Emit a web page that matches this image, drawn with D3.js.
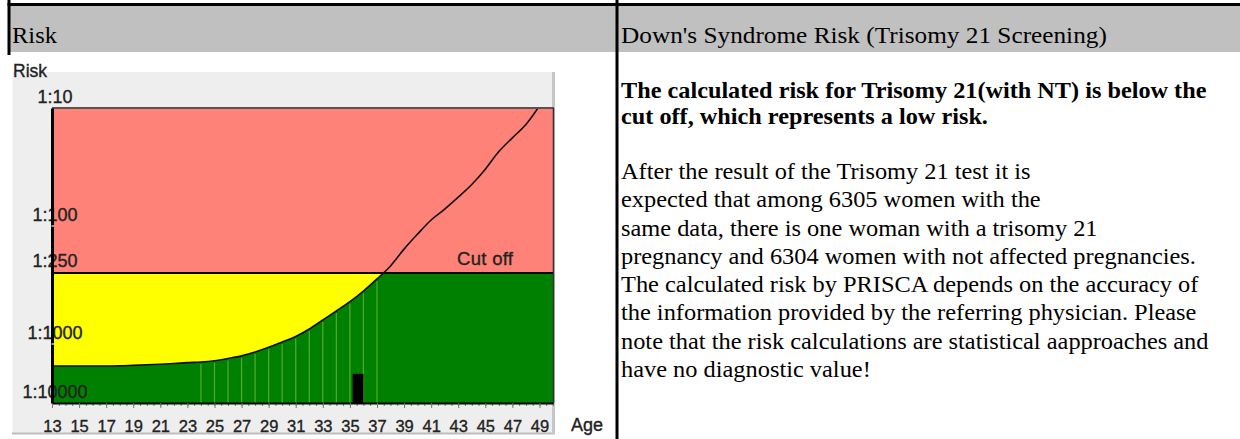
<!DOCTYPE html>
<html>
<head>
<meta charset="utf-8">
<script src="https://cdn.jsdelivr.net/npm/d3@7"></script>
<style>
html, body { margin: 0; padding: 0; background: #fff; }
svg { display: block; }
.chart text { font-family: "Liberation Sans", Arial, sans-serif; fill: #222; stroke: #222; stroke-width: 0.35px; }
.report text { font-family: "Liberation Serif", "Times New Roman", serif; fill: #000; }
</style>
</head>
<body>
<svg id="page" width="1240" height="439"></svg>
<script>
// age related risk curve (1:n)
var ages = [13, 14, 15, 16, 17, 18, 19, 20, 21, 22, 23, 24, 25, 26, 27, 28, 29, 30, 31,
  32, 33, 34, 35, 36, 37, 38, 39, 40, 41, 42, 43, 44, 45, 46, 47, 48, 49];
var riskDenominators = [2360, 2360, 2360, 2360, 2360, 2350, 2300, 2250, 2200, 2140, 2070,
  2020, 1920, 1760, 1590, 1370, 1140, 960, 863, 746, 626, 525, 438, 356, 281, 218, 157,
  117, 89, 72, 57, 44.5, 33, 23.4, 17.9, 13.8, 9.6];
var stripeAges = [24, 25, 26, 27, 28, 29, 30, 31, 32, 33, 34, 35, 36, 37];
var cutOff = 250;
var markerAges = [35.2, 36.0];
var markerRisk = 3200;

var yTickValues = [10, 100, 250, 1000, 10000];
var yTickLabels = ["1:10", "1:100", "1:250", "1:1000", "1:10000"];
var xTickValues = [13, 15, 17, 19, 21, 23, 25, 27, 29, 31, 33, 35, 37, 39, 41, 43, 45, 47, 49];

var headerLeft = "Risk";
var headerRight = "Down's Syndrome Risk (Trisomy 21 Screening)";
var resultLines = [
  "The calculated risk for Trisomy 21(with NT) is below the",
  "cut off, which represents a low risk."
];
var explanationLines = [
  "After the result of the Trisomy 21 test it is",
  "expected that among 6305 women with the",
  "same data, there is one woman with a trisomy 21",
  "pregnancy and 6304 women with not affected pregnancies.",
  "The calculated risk by PRISCA depends on the accuracy of",
  "the information provided by the referring physician. Please",
  "note that the risk calculations are statistical aapproaches and",
  "have no diagnostic value!"
];

var svg = d3.select("#page"),
  curveData = ages.map(function(a, i) { return { age: a, risk: riskDenominators[i] }; }),
  x = d3.scaleLinear().domain([13, 50]).range([52, 553]),
  y = d3.scaleLog().domain([10, 1000, 10000]).range([108, 344, 403]),
  plotLeft = x.range()[0],
  plotRight = x.range()[1],
  plotTop = y(10),
  plotBottom = y(10000),
  cutY = y(cutOff);

// ---- report table frame ----
var frame = svg.append("g").attr("class", "report");
frame.append("rect")
  .attr("x", 9).attr("y", 6).attr("width", 1231).attr("height", 46)
  .attr("fill", "#c0c0c0");
frame.append("line")
  .attr("x1", 7.5).attr("x2", 1240).attr("y1", 4.5).attr("y2", 4.5)
  .attr("stroke", "#000").attr("stroke-width", 3);
frame.append("line")
  .attr("x1", 9).attr("x2", 9).attr("y1", 0).attr("y2", 55)
  .attr("stroke", "#000").attr("stroke-width", 3);
frame.append("line")
  .attr("x1", 617).attr("x2", 617).attr("y1", 0).attr("y2", 439)
  .attr("stroke", "#000").attr("stroke-width", 3);

// fit a text block to the width the original font takes
var fitBlock = function(lines, left, top, pitch, size, weight, targetWidth) {
  var g = frame.append("g"),
    texts = g.selectAll("text")
      .data(lines)
      .enter().append("text")
      .attr("x", 0)
      .attr("y", function(d, i) { return top + i * pitch; })
      .style("font-size", size + "px")
      .style("font-weight", weight)
      .text(function(d) { return d; }),
    widest = d3.max(texts.nodes(), function(n) { return n.getComputedTextLength(); }),
    sx = targetWidth / widest;
  g.attr("transform", "translate(" + left + ",0) scale(" + sx + ",1)");
};

fitBlock([headerLeft], 12, 43, 0, 23, "normal", 45);
fitBlock([headerRight], 621, 43, 0, 23, "normal", 486);
fitBlock(resultLines, 621, 98, 26.5, 23, "bold", 586);
fitBlock(explanationLines, 621, 179, 28.3, 23, "normal", 588);

// ---- chart ----
var chart = svg.append("g").attr("class", "chart");

chart.append("rect")
  .attr("x", 12.5).attr("y", 72).attr("width", 542).attr("height", 361)
  .attr("fill", "#eeeeee");
chart.append("line")
  .attr("x1", 12).attr("x2", 555).attr("y1", 433.5).attr("y2", 433.5)
  .attr("stroke", "#bdbdbd").attr("stroke-width", 2);
chart.append("line")
  .attr("x1", 553.5).attr("x2", 553.5).attr("y1", 72).attr("y2", 434)
  .attr("stroke", "#c6c6c6").attr("stroke-width", 3);

var defs = chart.append("defs");
defs.append("clipPath").attr("id", "belowCut")
  .append("rect")
  .attr("x", plotLeft).attr("y", cutY)
  .attr("width", plotRight - plotLeft).attr("height", plotBottom - cutY);
defs.append("clipPath").attr("id", "plotArea")
  .append("rect")
  .attr("x", plotLeft).attr("y", plotTop)
  .attr("width", plotRight - plotLeft).attr("height", plotBottom - plotTop);

// zones
chart.append("rect")
  .attr("x", plotLeft).attr("y", plotTop)
  .attr("width", plotRight - plotLeft).attr("height", cutY - plotTop)
  .attr("fill", "#ff8278");
chart.append("rect")
  .attr("x", plotLeft).attr("y", cutY)
  .attr("width", plotRight - plotLeft).attr("height", plotBottom - cutY)
  .attr("fill", "#ffff00");

var area = d3.area()
  .x(function(d) { return x(d.age); })
  .y0(plotBottom)
  .y1(function(d) { return y(d.risk); })
  .curve(d3.curveMonotoneX);

chart.append("path")
  .datum(curveData)
  .attr("clip-path", "url(#belowCut)")
  .attr("fill", "#008000")
  .attr("d", area);
// everything right of the last age is below the curve as well
chart.append("rect")
  .attr("clip-path", "url(#belowCut)")
  .attr("x", x(ages[ages.length - 1]) - 1).attr("y", cutY)
  .attr("width", plotRight - x(ages[ages.length - 1]) + 1).attr("height", plotBottom - cutY)
  .attr("fill", "#008000");

// stripes under the curve
chart.selectAll(".stripe")
  .data(stripeAges)
  .enter().append("line")
  .attr("class", "stripe")
  .attr("x1", function(d) { return x(d); })
  .attr("x2", function(d) { return x(d); })
  .attr("y1", plotBottom)
  .attr("y2", function(d) { return y(riskDenominators[ages.indexOf(d)]) + 2; })
  .attr("stroke", "#4fa62a")
  .attr("stroke-width", 1.3);

// patient marker
chart.append("rect")
  .attr("x", x(markerAges[0]))
  .attr("y", y(markerRisk))
  .attr("width", x(markerAges[1]) - x(markerAges[0]))
  .attr("height", plotBottom - y(markerRisk))
  .attr("fill", "#000");

// y axis labels
var yAxis = d3.axisLeft(y)
  .tickValues(yTickValues)
  .tickFormat(function(d, i) { return yTickLabels[i]; })
  .tickSize(0)
  .tickSizeOuter(0);

var yAxisG = chart.append("g")
  .attr("transform", "translate(" + plotLeft + ",0)")
  .call(yAxis);
yAxisG.selectAll("text")
  .attr("x", 3)
  .attr("dy", -6)
  .attr("text-anchor", "middle")
  .style("font-size", "18px");

// cut off line and label
chart.append("line")
  .attr("x1", plotLeft).attr("x2", plotRight)
  .attr("y1", cutY).attr("y2", cutY)
  .attr("stroke", "#000").attr("stroke-width", 2);
chart.append("text")
  .attr("x", 457).attr("y", cutY - 8)
  .style("font-size", "18.5px")
  .style("letter-spacing", "0.3px")
  .text("Cut off");

// risk curve
chart.append("path")
  .datum(curveData)
  .attr("clip-path", "url(#plotArea)")
  .attr("fill", "none")
  .attr("stroke", "#111")
  .attr("stroke-width", 1.6)
  .attr("d", d3.line()
    .x(function(d) { return x(d.age); })
    .y(function(d) { return y(d.risk); })
    .curve(d3.curveMonotoneX));

// plot border
chart.append("line")
  .attr("x1", plotLeft).attr("x2", plotRight + 1)
  .attr("y1", plotTop).attr("y2", plotTop)
  .attr("stroke", "#555").attr("stroke-width", 2);
chart.append("line")
  .attr("x1", plotRight + 0.5).attr("x2", plotRight + 0.5)
  .attr("y1", plotTop).attr("y2", plotBottom)
  .attr("stroke", "#333").attr("stroke-width", 1.5);

// x axis
var minorAxis = d3.axisBottom(x)
  .tickValues(d3.range(13, 50.01, 0.5))
  .tickFormat("")
  .tickSize(3)
  .tickSizeOuter(0);
var minorG = chart.append("g")
  .attr("transform", "translate(0," + plotBottom + ")")
  .call(minorAxis);
minorG.select(".domain").remove();
minorG.selectAll("line").attr("stroke", "#777");

var xAxis = d3.axisBottom(x)
  .tickValues(xTickValues)
  .tickSize(5)
  .tickSizeOuter(0);
var xAxisG = chart.append("g")
  .attr("transform", "translate(0," + plotBottom + ")")
  .call(xAxis);
xAxisG.select(".domain")
  .attr("stroke", "#000").attr("stroke-width", 2);
xAxisG.selectAll("line").attr("stroke", "#777");
xAxisG.selectAll("text")
  .attr("y", 28.5)
  .attr("dy", 0)
  .style("font-size", "16.5px");

yAxisG.select(".domain")
  .attr("stroke", "#000").attr("stroke-width", 3)
  .raise();
yAxisG.raise();

// small white ticks on the y axis
chart.selectAll(".ytick-mark")
  .data([100, 1000])
  .enter().append("line")
  .attr("x1", plotLeft - 0.5).attr("x2", plotLeft + 2)
  .attr("y1", function(d) { return y(d); })
  .attr("y2", function(d) { return y(d); })
  .attr("stroke", "#fff").attr("stroke-width", 1.2);

chart.append("text")
  .attr("x", 13).attr("y", 77)
  .style("font-size", "17.5px")
  .text("Risk");
chart.append("text")
  .attr("x", 571).attr("y", 431)
  .style("font-size", "18px")
  .text("Age");
</script>
</body>
</html>
